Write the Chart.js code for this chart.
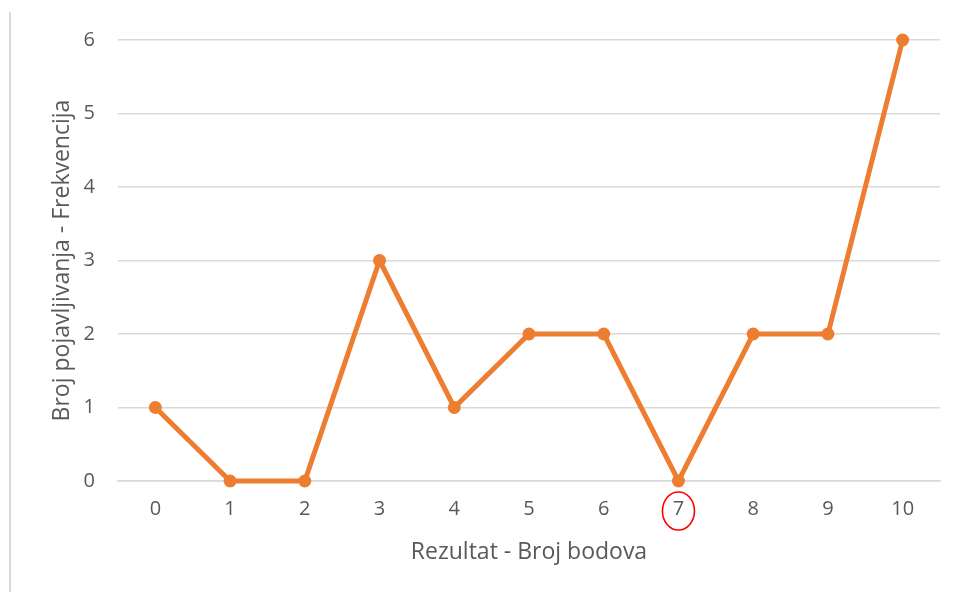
<!DOCTYPE html>
<html>
<head>
<meta charset="utf-8">
<script src="https://cdn.jsdelivr.net/npm/chart.js@4"></script>
<style>
  html, body { margin: 0; padding: 0; background: #fff; }
  #wrap { position: relative; width: 958px; height: 592px; }
  #frame { position: absolute; left: 9px; top: 12px; width: 0; height: 580px; border-left: 2px solid #d9d9d9; }
  canvas { position: absolute; left: 0; top: 0; }
</style>
</head>
<body>
<div id="wrap">
  <div id="frame"></div>
  <canvas id="c" width="958" height="592"></canvas>
</div>
<script>
const categories = ['0','1','2','3','4','5','6','7','8','9','10'];
const frequencies = [1, 0, 0, 3, 1, 2, 2, 0, 2, 2, 6];
const yTicks = [0, 1, 2, 3, 4, 5, 6];
const highlightedCategory = '7';

const FONT = '"Open Sans", "DejaVu Sans", sans-serif';
const TEXT = '#595959';
const ORANGE = '#ED7D31';

const circlePlugin = {
  id: 'circleLabel',
  afterDraw(chart) {
    const xs = chart.scales.x;
    const idx = categories.indexOf(highlightedCategory);
    const cx = xs.getPixelForValue(idx);
    const cy = chart.chartArea.bottom + 30;
    const ctx = chart.ctx;
    ctx.save();
    ctx.strokeStyle = '#ff0000';
    ctx.lineWidth = 1.6;
    ctx.beginPath();
    ctx.ellipse(cx, cy, 16, 19, 0, 0, Math.PI * 2);
    ctx.stroke();
    ctx.restore();
  }
};

new Chart(document.getElementById('c'), {
  type: 'line',
  data: {
    labels: categories,
    datasets: [{
      data: frequencies,
      borderColor: ORANGE,
      backgroundColor: ORANGE,
      borderWidth: 5,
      pointRadius: 6.5,
      pointBackgroundColor: ORANGE,
      pointBorderWidth: 0,
      tension: 0,
      clip: false
    }]
  },
  options: {
    responsive: false,
    animation: false,
    devicePixelRatio: 1,
    layout: { padding: { top: 40, right: 18, left: 49, bottom: 26 } },
    plugins: { legend: { display: false }, tooltip: { enabled: false } },
    scales: {
      x: {
        offset: true,
        grid: { display: false },
        border: { display: true, color: '#d9d9d9', width: 1.5 },
        ticks: { color: TEXT, font: { family: FONT, size: 20 }, padding: 8, maxRotation: 0 },
        title: { display: true, text: 'Rezultat - Broj bodova', color: TEXT, font: { family: FONT, size: 23 }, padding: { top: 0, bottom: 0 } },
        afterFit(s) { s.height = 85; }
      },
      y: {
        min: 0, max: 6,
        afterBuildTicks(s) { s.ticks = yTicks.map(v => ({ value: v })); },
        grid: { color: '#d9d9d9', lineWidth: 1.5, drawTicks: false },
        border: { display: false },
        ticks: { color: TEXT, font: { family: FONT, size: 20 }, padding: 23 },
        title: { display: true, text: 'Broj pojavljivanja - Frekvencija', color: TEXT, font: { family: FONT, size: 23 }, padding: { top: 0, bottom: 0 } },
        afterFit(s) { s.width = 69; }
      }
    }
  },
  plugins: [circlePlugin]
});
</script>
</body>
</html>
